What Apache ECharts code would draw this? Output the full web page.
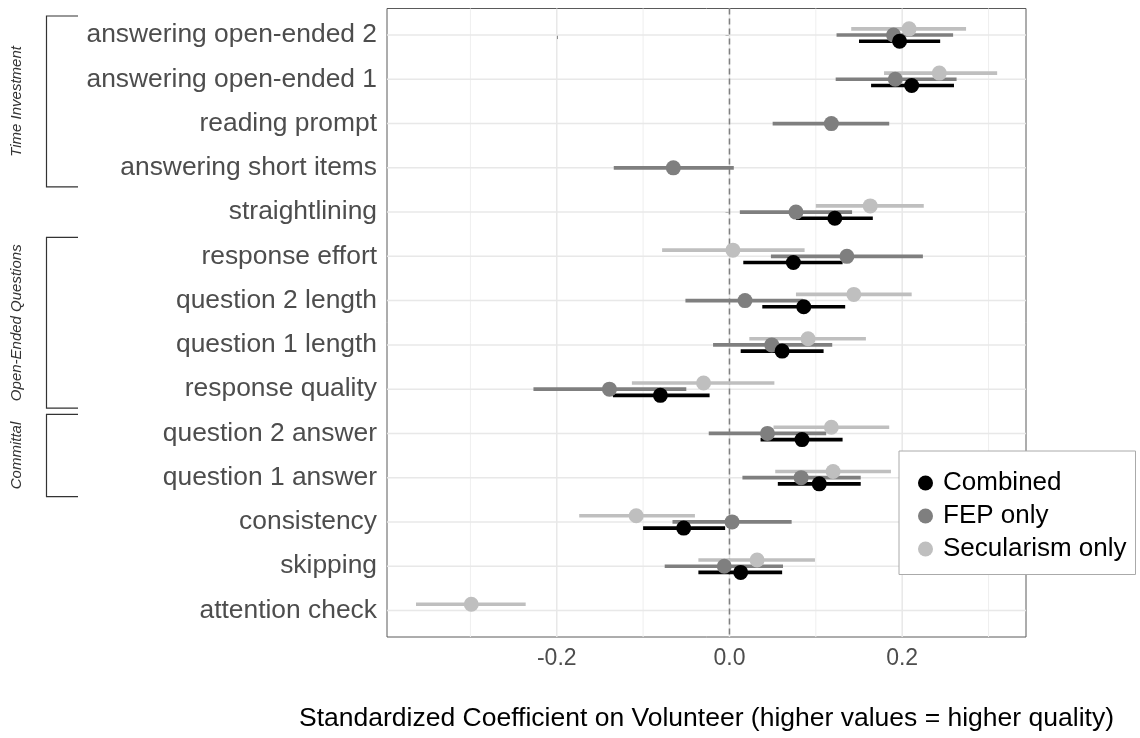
<!DOCTYPE html>
<html><head><meta charset="utf-8">
<script src="https://cdn.jsdelivr.net/npm/echarts@6/dist/echarts.min.js"></script>
<style>html,body{margin:0;padding:0;background:#fff}#c{width:1140px;height:738px}</style>
</head><body><div id="c"></div>
<script>
// ---- data ----
const categories = ['answering open-ended 2','answering open-ended 1','reading prompt','answering short items','straightlining','response effort','question 2 length','question 1 length','response quality','question 2 answer','question 1 answer','consistency','skipping','attention check'];
const seriesNames = ['Combined','FEP only','Secularism only'];

const combinedEst = [0.197, 0.211, null, null, 0.122, 0.074, 0.086, 0.061, -0.080, 0.084, 0.104, -0.053, 0.013, null];
const combinedLo  = [0.150, 0.164, null, null, 0.077, 0.016, 0.038, 0.013, -0.135, 0.036, 0.056, -0.100, -0.036, null];
const combinedHi  = [0.244, 0.260, null, null, 0.166, 0.131, 0.134, 0.109, -0.023, 0.131, 0.152, -0.005, 0.061, null];

const fepEst = [0.190, 0.192, 0.118, -0.065, 0.077, 0.136, 0.018, 0.049, -0.139, 0.044, 0.083, 0.003, -0.006, null];
const fepLo  = [0.124, 0.123, 0.050, -0.134, 0.012, 0.048, -0.051, -0.019, -0.227, -0.024, 0.015, -0.066, -0.075, null];
const fepHi  = [0.259, 0.263, 0.185, 0.005, 0.142, 0.224, 0.085, 0.119, -0.050, 0.112, 0.152, 0.072, 0.062, null];

const secEst = [0.208, 0.243, null, null, 0.163, 0.004, 0.144, 0.091, -0.030, 0.118, 0.120, -0.108, 0.032, -0.299];
const secLo  = [0.141, 0.179, null, null, 0.100, -0.078, 0.077, 0.023, -0.113, 0.051, 0.053, -0.174, -0.036, -0.363];
const secHi  = [0.274, 0.310, null, null, 0.225, 0.087, 0.211, 0.158, 0.052, 0.185, 0.187, -0.040, 0.099, -0.236];

const xTickValues = [-0.2, 0, 0.2];
const xMinorGridValues = [-0.3, -0.1, 0.1, 0.3];
const refLineValues = [0];
const groups = [
  {label: 'Time Investment', from: 0, to: 3},
  {label: 'Open-Ended Questions', from: 5, to: 8},
  {label: 'Committal', from: 9, to: 10}
];
const xTitle = 'Standardized Coefficient on Volunteer (higher values = higher quality)';

// ---- styling / layout ----
const FONT = '"Liberation Sans", Arial, Helvetica, sans-serif';
const colors = {'Combined': '#000000', 'FEP only': '#7f7f7f', 'Secularism only': '#bfbfbf'};
const dodge = {'Combined': 0.14, 'FEP only': 0, 'Secularism only': -0.14};
const rowIdx = categories.map((_, i) => i);

function pts(est, off) {
  const out = [];
  est.forEach((v, i) => { if (v != null) out.push([v, i + off]); });
  return out;
}
function bars(lo, hi, off) {
  const out = [];
  lo.forEach((v, i) => { if (v != null) out.push([v, hi[i], i + off]); });
  return out;
}
const groupData = {
  'Combined': {est: combinedEst, lo: combinedLo, hi: combinedHi},
  'FEP only': {est: fepEst, lo: fepLo, hi: fepHi},
  'Secularism only': {est: secEst, lo: secLo, hi: secHi}
};
const drawOrder = ['Secularism only', 'FEP only', 'Combined'];

const chart = echarts.init(document.getElementById('c'), null, {renderer: 'canvas'});

const series = [];
// grid lines
series.push({
  type: 'custom', name: 'vminor', silent: true, z: 1,
  data: xMinorGridValues.map(v => [v, 0]),
  renderItem: (p, api) => {
    const cs = p.coordSys; const x = api.coord([api.value(0), 0])[0];
    return {type: 'line', shape: {x1: x, y1: cs.y, x2: x, y2: cs.y + cs.height}, style: {stroke: '#efefef', lineWidth: 1}};
  }
});
series.push({
  type: 'custom', name: 'vmajor', silent: true, z: 1,
  data: xTickValues.map(v => [v, 0]),
  renderItem: (p, api) => {
    const cs = p.coordSys; const x = api.coord([api.value(0), 0])[0];
    return {type: 'line', shape: {x1: x, y1: cs.y, x2: x, y2: cs.y + cs.height}, style: {stroke: '#e8e8e8', lineWidth: 1.5}};
  }
});
series.push({
  type: 'custom', name: 'hgrid', silent: true, z: 1,
  data: rowIdx.map(i => [0, i]),
  renderItem: (p, api) => {
    const cs = p.coordSys; const y = api.coord([0, api.value(1)])[1];
    return {type: 'line', shape: {x1: cs.x, y1: y, x2: cs.x + cs.width, y2: y}, style: {stroke: '#e8e8e8', lineWidth: 1.5}};
  }
});
series.push({
  type: 'custom', name: 'ref', silent: true, z: 1,
  data: refLineValues.map(v => [v, 0]),
  renderItem: (p, api) => {
    const cs = p.coordSys; const x = api.coord([api.value(0), 0])[0];
    return {type: 'line', shape: {x1: x, y1: cs.y, x2: x, y2: cs.y + cs.height}, style: {stroke: '#808080', lineWidth: 1.5, lineDash: [6, 4]}};
  }
});
// error bars
drawOrder.forEach(n => {
  const g = groupData[n];
  series.push({
    type: 'custom', name: n + ' CI', silent: true, z: 2,
    encode: {x: [0, 1], y: 2},
    data: bars(g.lo, g.hi, dodge[n]),
    renderItem: (p, api) => {
      const a = api.coord([api.value(0), api.value(2)]);
      const b = api.coord([api.value(1), api.value(2)]);
      return {type: 'line', shape: {x1: a[0], y1: a[1], x2: b[0], y2: b[1]}, style: {stroke: colors[n], lineWidth: 3.6}};
    }
  });
});
// points
drawOrder.forEach(n => {
  series.push({
    type: 'scatter', name: n, z: 3, symbol: 'circle', symbolSize: 15,
    itemStyle: {color: colors[n], opacity: 1},
    data: pts(groupData[n].est, dodge[n])
  });
});

chart.setOption({
  animation: false,
  backgroundColor: '#fff',
  grid: {left: 387, right: 114, top: 8.5, bottom: 101, show: true, borderColor: '#5a5a5a', borderWidth: 1, backgroundColor: 'transparent'},
  xAxis: {
    type: 'value', min: -0.3966, max: 0.3434,
    axisLine: {show: false},
    splitLine: {show: false},
    axisTick: {show: true, length: 4, lineStyle: {color: '#333'}, customValues: xTickValues},
    axisLabel: {customValues: xTickValues, formatter: v => v.toFixed(1), fontSize: 23, color: '#4d4d4d', fontFamily: FONT, margin: 10},
    name: xTitle, nameLocation: 'middle', nameGap: 68,
    nameTextStyle: {fontSize: 26.5, color: '#000', fontFamily: FONT}
  },
  yAxis: {
    type: 'value', inverse: true, min: -0.6, max: 13.6,
    axisLine: {show: false},
    splitLine: {show: false},
    axisTick: {show: true, length: 4, lineStyle: {color: '#333'}, customValues: rowIdx},
    axisLabel: {customValues: rowIdx, formatter: v => categories[Math.round(v)] || '', fontSize: 26.4, color: '#4d4d4d', fontFamily: FONT, margin: 10}
  },
  legend: {
    data: seriesNames, orient: 'vertical', left: 899, top: 451,
    backgroundColor: '#fff', borderColor: '#aaa', borderWidth: 1,
    padding: [18.5, 9, 12, 19], itemGap: 6, itemWidth: 15, itemHeight: 15, icon: 'circle',
    textStyle: {fontSize: 26, color: '#000', fontFamily: FONT, lineHeight: 27, padding: [0, 0, 0, 5]},
    selectedMode: false, z: 10
  },
  series: series
});

// group brackets, positioned from the y axis scale
const graphics = [];
groups.forEach(g => {
  const yTop = chart.convertToPixel({yAxisIndex: 0}, g.from - 0.43);
  const yBot = chart.convertToPixel({yAxisIndex: 0}, g.to + 0.43);
  graphics.push({
    type: 'polyline', silent: true,
    shape: {points: [[78, yTop], [46.5, yTop], [46.5, yBot], [78, yBot]]},
    style: {stroke: '#333', lineWidth: 1.2, fill: null}
  });
  graphics.push({
    type: 'text', silent: true, x: 17, y: (yTop + yBot) / 2, rotation: Math.PI / 2,
    style: {text: g.label, font: 'italic 15px ' + FONT, fill: '#333', align: 'center', verticalAlign: 'middle'}
  });
});
chart.setOption({graphic: graphics});
</script>
</body></html>
